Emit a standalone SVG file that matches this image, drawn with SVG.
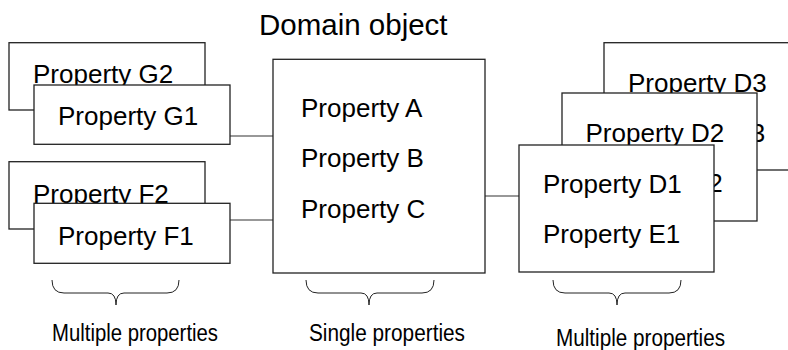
<svg xmlns="http://www.w3.org/2000/svg" width="788" height="350" viewBox="0 0 788 350">
<style>
.box{fill:#fff;stroke:#222;stroke-width:1.3}
.conn{fill:none;stroke:#333;stroke-width:1.2}
.brace{fill:none;stroke:#222;stroke-width:1}
.t{font-family:"Liberation Sans",Arial,sans-serif;font-size:26px;fill:#000}
.title{font-family:"Liberation Sans",Arial,sans-serif;font-size:29.5px;fill:#000}
.lbl{font-family:"Liberation Sans",Arial,sans-serif;font-size:23px;fill:#000}
</style>
<rect width="788" height="350" fill="#fff"/>
<text class="title" x="259" y="35">Domain object</text>
<g id="connectors">
<line class="conn" x1="230" y1="136" x2="273" y2="136"/>
<line class="conn" x1="230" y1="220" x2="273" y2="220"/>
<line class="conn" x1="485" y1="196" x2="519" y2="196"/>
</g>
<g id="node-g2"><rect class="box" x="9" y="42.7" width="196" height="67.3"/><text class="t" x="33" y="82.7">Property G2</text></g>
<g id="node-g1"><rect class="box" x="34" y="85" width="196" height="59.3"/><text class="t" x="58" y="125">Property G1</text></g>
<g id="node-f2"><rect class="box" x="9" y="161.7" width="196" height="67.3"/><text class="t" x="33" y="202.7">Property F2</text></g>
<g id="node-f1"><rect class="box" x="34" y="203.3" width="196" height="60"/><text class="t" x="58" y="245">Property F1</text></g>
<g id="node-domain"><rect class="box" x="273" y="59.3" width="212" height="213.7"/>
<text class="t" x="301" y="117.3">Property A</text>
<text class="t" x="301" y="167">Property B</text>
<text class="t" x="301" y="218">Property C</text></g>
<g id="node-d3"><rect class="box" x="604" y="42.7" width="195" height="127.3"/>
<text class="t" x="628" y="91.7">Property D3</text>
<text class="t" x="628" y="141.7">Property E3</text></g>
<g id="node-d2"><rect class="box" x="562" y="93" width="195" height="128"/>
<text class="t" x="585.5" y="141.7">Property D2</text>
<text class="t" x="585.5" y="191.7">Property E2</text></g>
<g id="node-d1"><rect class="box" x="519" y="145" width="195" height="127"/>
<text class="t" x="543" y="192.7">Property D1</text>
<text class="t" x="543" y="242.7">Property E1</text></g>
<g id="braces">
<path class="brace" d="M52,280 Q52,293 64,293 L108,293 Q116,293 116,305 Q116,293 124,293 L167,293 Q179,293 179,280"/>
<path class="brace" d="M306,280 Q306,293 318,293 L361,293 Q369,293 369,305 Q369,293 377,293 L422,293 Q434,293 434,280"/>
<path class="brace" d="M553,280 Q553,293 565,293 L609,293 Q617,293 617,305 Q617,293 625,293 L669,293 Q681,293 681,280"/>
</g>
<text class="lbl" x="52" y="341" textLength="166" lengthAdjust="spacingAndGlyphs">Multiple properties</text>
<text class="lbl" x="309" y="341" textLength="156" lengthAdjust="spacingAndGlyphs">Single properties</text>
<text class="lbl" x="556" y="346" textLength="169" lengthAdjust="spacingAndGlyphs">Multiple properties</text>
</svg>
